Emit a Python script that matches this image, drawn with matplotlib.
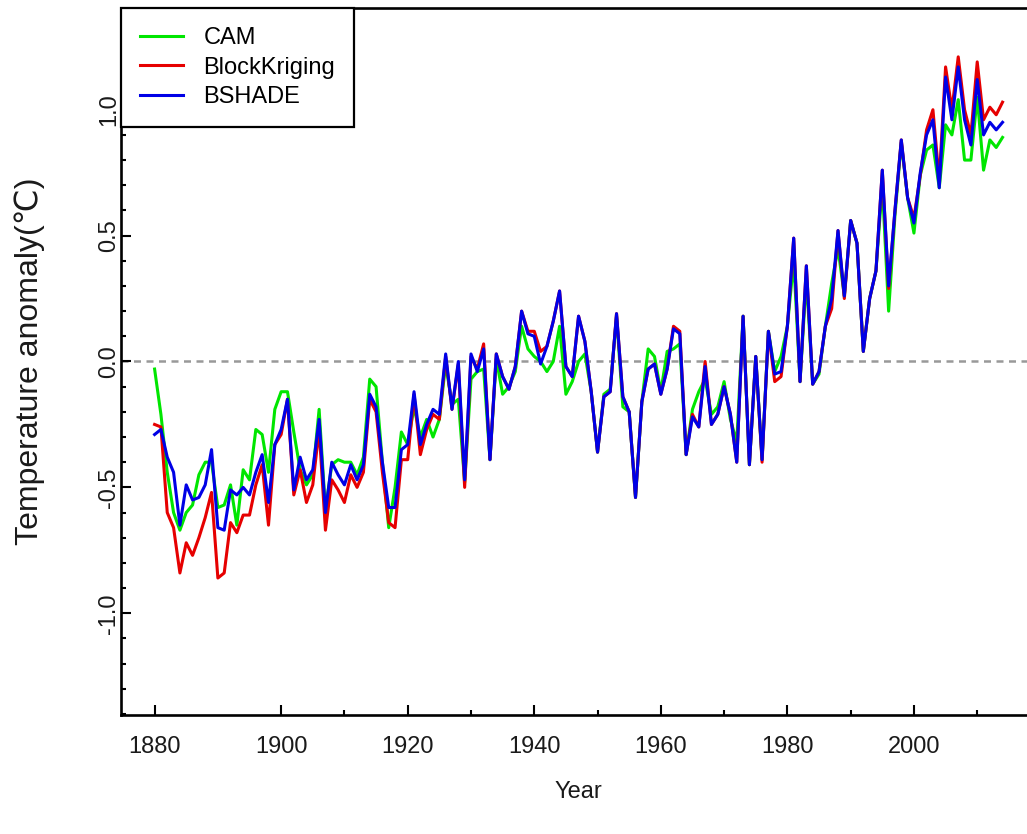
import numpy as np
import matplotlib
matplotlib.use("Agg")
import matplotlib.pyplot as plt
from matplotlib.ticker import FixedLocator, MultipleLocator

plt.rcParams['font.family'] = ['Liberation Sans', 'DejaVu Sans']
plt.rcParams['axes.unicode_minus'] = False

years = np.arange(1880, 2015)

cam = [
    -0.03, -0.21, -0.44, -0.60, -0.67, -0.60, -0.57, -0.45, -0.40, -0.40,  # 1880s
    -0.58, -0.57, -0.49, -0.65, -0.43, -0.47, -0.27, -0.29, -0.44, -0.19,  # 1890s
    -0.12, -0.12, -0.28, -0.43, -0.49, -0.45, -0.19, -0.59, -0.41, -0.39,  # 1900s
    -0.40, -0.40, -0.45, -0.38, -0.07, -0.10, -0.40, -0.66, -0.50, -0.28,  # 1910s
    -0.33, -0.18, -0.30, -0.23, -0.30, -0.23, -0.01, -0.17, -0.15, -0.48,  # 1920s
    -0.07, -0.04, -0.03, -0.39, 0.01, -0.13, -0.10, -0.04, 0.14, 0.05,     # 1930s
    0.02, 0.00, -0.04, 0.00, 0.14, -0.13, -0.08, 0.00, 0.03, -0.12,        # 1940s
    -0.36, -0.13, -0.11, 0.18, -0.18, -0.20, -0.54, -0.16, 0.05, 0.02,     # 1950s
    -0.12, 0.04, 0.05, 0.07, -0.37, -0.19, -0.12, -0.07, -0.21, -0.18,     # 1960s
    -0.08, -0.23, -0.32, 0.18, -0.41, 0.02, -0.39, 0.12, -0.04, 0.02,      # 1970s
    0.14, 0.40, -0.08, 0.33, -0.09, -0.05, 0.14, 0.31, 0.45, 0.26,         # 1980s
    0.56, 0.47, 0.04, 0.25, 0.36, 0.70, 0.20, 0.58, 0.87, 0.65,            # 1990s
    0.51, 0.74, 0.84, 0.86, 0.69, 0.94, 0.90, 1.04, 0.80, 0.80,            # 2000s
    1.05, 0.76, 0.88, 0.85, 0.89,                                          # 2010-2014
]

block_kriging = [
    -0.25, -0.26, -0.60, -0.66, -0.84, -0.72, -0.77, -0.70, -0.62, -0.52,
    -0.86, -0.84, -0.64, -0.68, -0.61, -0.61, -0.49, -0.41, -0.65, -0.33,
    -0.29, -0.15, -0.53, -0.43, -0.56, -0.49, -0.27, -0.67, -0.47, -0.51,
    -0.56, -0.45, -0.50, -0.44, -0.15, -0.20, -0.44, -0.64, -0.66, -0.39,
    -0.39, -0.13, -0.37, -0.27, -0.21, -0.23, 0.02, -0.19, -0.01, -0.50,
    0.02, -0.03, 0.07, -0.39, 0.03, -0.06, -0.11, -0.02, 0.20, 0.12,
    0.12, 0.04, 0.06, 0.16, 0.28, -0.02, -0.06, 0.18, 0.08, -0.12,
    -0.36, -0.14, -0.12, 0.19, -0.14, -0.20, -0.54, -0.16, -0.03, -0.01,
    -0.13, -0.03, 0.14, 0.12, -0.37, -0.21, -0.26, 0.00, -0.25, -0.21,
    -0.10, -0.21, -0.40, 0.18, -0.41, 0.02, -0.40, 0.12, -0.08, -0.06,
    0.14, 0.49, -0.08, 0.38, -0.09, -0.04, 0.14, 0.21, 0.52, 0.25,
    0.56, 0.47, 0.04, 0.25, 0.36, 0.76, 0.29, 0.60, 0.88, 0.65,
    0.57, 0.74, 0.92, 1.00, 0.72, 1.17, 1.00, 1.21, 1.00, 0.90,
    1.19, 0.96, 1.01, 0.98, 1.03,
]

bshade = [
    -0.29, -0.27, -0.38, -0.44, -0.65, -0.49, -0.55, -0.54, -0.49, -0.35,
    -0.66, -0.67, -0.51, -0.53, -0.50, -0.53, -0.44, -0.37, -0.56, -0.33,
    -0.27, -0.15, -0.51, -0.38, -0.47, -0.43, -0.23, -0.60, -0.40, -0.45,
    -0.49, -0.41, -0.47, -0.41, -0.13, -0.18, -0.40, -0.58, -0.58, -0.35,
    -0.33, -0.12, -0.33, -0.25, -0.19, -0.21, 0.03, -0.19, 0.00, -0.47,
    0.03, -0.04, 0.05, -0.39, 0.03, -0.06, -0.11, -0.02, 0.20, 0.11,
    0.10, -0.01, 0.06, 0.16, 0.28, -0.02, -0.06, 0.18, 0.08, -0.12,
    -0.36, -0.14, -0.12, 0.19, -0.14, -0.20, -0.54, -0.16, -0.03, -0.01,
    -0.13, -0.03, 0.13, 0.11, -0.37, -0.22, -0.26, -0.02, -0.25, -0.21,
    -0.10, -0.21, -0.40, 0.18, -0.41, 0.02, -0.39, 0.12, -0.05, -0.04,
    0.14, 0.49, -0.08, 0.38, -0.09, -0.04, 0.14, 0.25, 0.52, 0.26,
    0.56, 0.47, 0.04, 0.25, 0.36, 0.76, 0.30, 0.60, 0.88, 0.65,
    0.55, 0.75, 0.90, 0.96, 0.69, 1.13, 0.96, 1.17, 0.96, 0.86,
    1.12, 0.90, 0.95, 0.92, 0.95,
]

series = [
    ("CAM", cam, "#00e600"),
    ("BlockKriging", block_kriging, "#e60000"),
    ("BSHADE", bshade, "#0000e6"),
]

fig = plt.figure(figsize=(10.27, 8.34), dpi=100)
# right edge of the box runs just past the picture, as in the original
ax = fig.add_axes([0.1175, 0.1427, 0.8917, 0.8477])

ax.axhline(0, color="#999999", lw=1.8, dashes=(2.8, 2.2), zorder=1)
for label, vals, color in series:
    ax.plot(years, vals, color=color, lw=2.2, label=label, zorder=2)

ax.set_xlim(1874.64, 2019.36)
ax.set_ylim(-1.404, 1.404)

ax.xaxis.set_major_locator(FixedLocator(np.arange(1880, 2001, 20)))
ax.xaxis.set_minor_locator(FixedLocator(np.arange(1910, 2011, 20)))
ax.yaxis.set_major_locator(FixedLocator([-1.0, -0.5, 0.0, 0.5, 1.0]))
ax.yaxis.set_minor_locator(MultipleLocator(0.1))

ax.tick_params(which="both", direction="in", width=1.5, colors="black",
               labelsize=17, labelcolor="#1a1a1a")
ax.tick_params(which="major", length=7.5)
ax.tick_params(which="minor", length=3.8)
ax.tick_params(axis="x", pad=15)
ax.tick_params(axis="y", pad=0.5)
for t in ax.get_yticklabels():
    t.set_rotation(90)
    t.set_va("center")

for sp in ax.spines.values():
    sp.set_linewidth(1.9)

ax.set_xlabel("Year", fontsize=17, color="#1a1a1a", labelpad=16.5)
ax.set_ylabel("Temperature anomaly(\u2103)", fontsize=23, color="#1a1a1a",
              labelpad=38)

leg = ax.legend(loc="upper left", bbox_to_anchor=(0, 1), borderaxespad=0,
                fontsize=17, frameon=True, fancybox=False, framealpha=1,
                edgecolor="black", handlelength=1.86, handletextpad=0.85,
                borderpad=0.8, labelspacing=0.33)
leg.get_frame().set_linewidth(1.6)

fig.savefig("out.png", dpi=100)
